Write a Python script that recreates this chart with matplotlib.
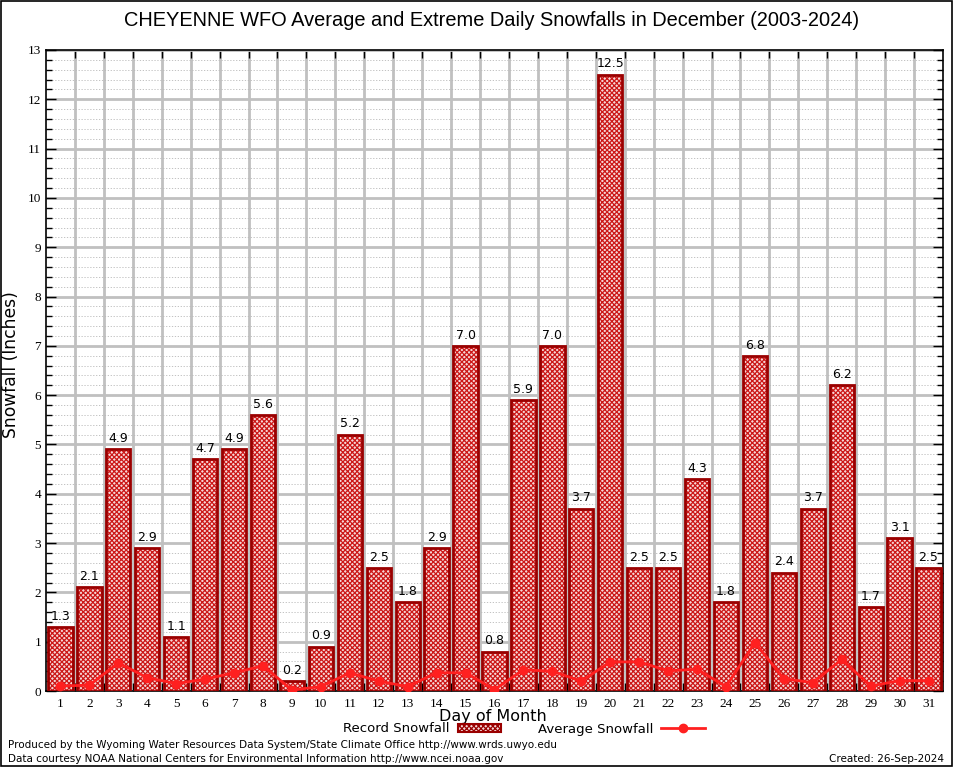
import numpy as np
import matplotlib
matplotlib.use('Agg')
import matplotlib.pyplot as plt
from matplotlib.patches import Rectangle, Patch
from matplotlib.lines import Line2D
from matplotlib.ticker import MultipleLocator, NullFormatter

# 数据：12 月每日最大降雪与平均降雪（英寸）
days = list(range(1, 32))
record_snow = [1.3, 2.1, 4.9, 2.9, 1.1, 4.7, 4.9, 5.6, 0.2, 0.9, 5.2, 2.5, 1.8, 2.9, 7.0, 0.8,
               5.9, 7.0, 3.7, 12.5, 2.5, 2.5, 4.3, 1.8, 6.8, 2.4, 3.7, 6.2, 1.7, 3.1, 2.5]
avg_snow = [0.10, 0.12, 0.57, 0.27, 0.15, 0.24, 0.37, 0.51, 0.02, 0.09, 0.37, 0.20, 0.09, 0.37,
            0.37, 0.03, 0.43, 0.40, 0.20, 0.59, 0.59, 0.41, 0.44, 0.09, 0.98, 0.25, 0.17, 0.64,
            0.10, 0.21, 0.21]

title = 'CHEYENNE WFO Average and Extreme Daily Snowfalls in December (2003-2024)'
footer1 = 'Produced by the Wyoming Water Resources Data System/State Climate Office http://www.wrds.uwyo.edu'
footer2 = 'Data courtesy NOAA National Centers for Environmental Information http://www.ncei.noaa.gov'
created = 'Created: 26-Sep-2024'

plt.rcParams['font.family'] = 'DejaVu Sans'
plt.rcParams['hatch.linewidth'] = 0.9

fig = plt.figure(figsize=(9.54, 7.68), dpi=100)
ax = fig.add_axes([46 / 954, 1 - 691 / 768, (943 - 46) / 954, (691 - 50) / 768])

bar_edge = '#9a0000'
hatch_col = '#cc1818'
bar_face = '#f6d8d8'
line_col = '#ff2020'

# 柱状图：填充花纹 + 深红色边框
ax.bar(days, record_snow, width=0.84, facecolor=bar_face, edgecolor=hatch_col,
       hatch='xxxxxxx', linewidth=0, zorder=3)
ax.bar(days, record_snow, width=0.84, fill=False, edgecolor=bar_edge, linewidth=2, zorder=4)
for d, v in zip(days, record_snow):
    ax.annotate('%.1f' % v, (d, v), xytext=(0, 3), textcoords='offset points',
                ha='center', va='bottom', fontsize=9, zorder=5)

ax.plot(days, avg_snow, color=line_col, linewidth=2, marker='o', markersize=6, zorder=6)

ax.set_xlim(0.5, 31.5)
ax.set_ylim(0, 13)

ax.set_xticks(np.arange(1.5, 31.5, 1))
ax.xaxis.set_major_formatter(NullFormatter())
ax.set_xticks(days, [str(d) for d in days], minor=True)
ax.tick_params(axis='x', which='minor', length=0, pad=5)
ax.tick_params(axis='x', which='major', direction='in', length=6, top=True, bottom=True,
               width=1)
ax.yaxis.set_major_locator(MultipleLocator(1))
ax.yaxis.set_minor_locator(MultipleLocator(0.2))
ax.tick_params(axis='y', which='major', direction='in', length=7, left=True, right=True, width=1)
ax.tick_params(axis='y', which='minor', direction='in', length=4, left=True, right=True, width=1)
for lab in ax.get_xticklabels(minor=True) + ax.get_yticklabels():
    lab.set_fontfamily('Liberation Serif')
    lab.set_fontsize(9.5)

ax.grid(which='major', color='#c0c0c0', linewidth=2, zorder=0)
ax.grid(which='minor', axis='y', color='#b8b8b8', linewidth=0.6, linestyle=(0, (1.5, 2)),
        zorder=0)
ax.set_axisbelow(True)
for sp in ax.spines.values():
    sp.set_linewidth(1.2)

fig.text(11 / 954, 1 - 365 / 768, 'Snowfall (Inches)', fontsize=12.3, rotation=90,
         ha='center', va='center')
fig.text(493 / 954, 1 - 717 / 768, 'Day of Month', fontsize=11.5, ha='center', va='center')
fig.text(492 / 954, 1 - 20 / 768, title, fontsize=14.4, family='Liberation Sans',
         ha='center', va='center')

handles = [Patch(facecolor=bar_face, edgecolor=bar_edge, hatch='xxxxxxx', linewidth=1.5),
           Line2D([], [], color=line_col, linewidth=2, marker='o', markersize=6,
                  markevery=[1])]
fig.legend(handles, ['Record Snowfall', 'Average Snowfall'], ncol=2, loc='center',
           bbox_to_anchor=(524 / 954, 1 - 729 / 768), frameon=False, markerfirst=False,
           fontsize=9.5, handlelength=3.3, handleheight=0.5, columnspacing=2.8,
           handletextpad=0.6, borderpad=0)

fig.text(8 / 954, 1 - 745 / 768, footer1, fontsize=7.5, ha='left', va='center')
fig.text(8 / 954, 1 - 759 / 768, footer2, fontsize=7.5, ha='left', va='center')
fig.text(944 / 954, 1 - 759 / 768, created, fontsize=7.5, ha='right', va='center')

fig.patches.append(Rectangle((0.001, 0.002), 0.997, 0.997, transform=fig.transFigure,
                             fill=False, edgecolor='black', linewidth=1.2))

fig.savefig('out.png', dpi=100)
